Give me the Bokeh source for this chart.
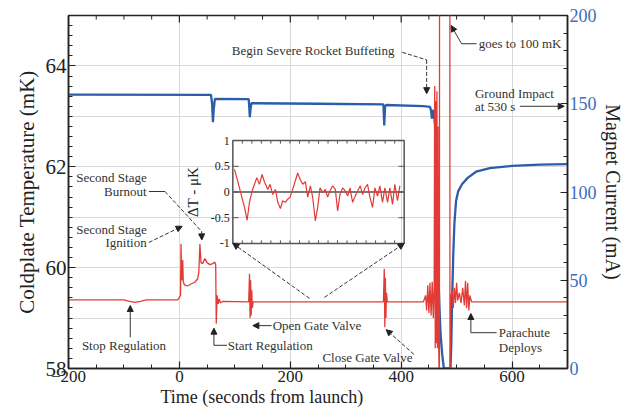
from math import pi
from bokeh.plotting import figure
from bokeh.models import Range1d, LinearAxis, SingleIntervalTicker, Arrow, NormalHead, Title
from bokeh.core.properties import value
from bokeh.embed import file_html
from bokeh.resources import INLINE

# ---------------- data ----------------
temp_t = [-200, -100, -90, -80, -70, -60, -3, 0, 2, 3, 4, 5, 6, 7, 9, 15, 22, 28, 33, 35, 37, 39,
          42, 46, 50, 55, 60, 64, 65.5, 66.5, 68, 70, 72, 74, 78, 125, 126.5, 127.5, 128.5, 129.5,
          130.5, 131.5, 133, 368, 369.5, 370.5, 371.5, 372.5, 373.5, 375, 440, 444, 446, 448, 450,
          452, 454, 456, 458, 459.5, 460.5, 461.5, 462.5, 463.5, 464.5, 465.5, 466.5, 467.5, 469,
          470, 487, 488, 489.5, 492, 494, 496, 498, 500, 502, 505, 508, 511, 514, 516, 518, 520,
          522, 524, 527, 700]
temp_mK = [59.36, 59.36, 59.33, 59.31, 59.33, 59.36, 59.36, 59.41, 59.45, 60.47, 59.75, 59.8,
           60.15, 59.72, 59.66, 59.64, 59.68, 59.71, 59.78, 59.9, 60.47, 60.1, 60.08, 60.18, 60.1,
           60.06, 60.08, 60.11, 60.05, 58.89, 59.45, 59.28, 59.38, 59.3, 59.33, 59.32, 59.88, 59.0,
           59.75, 59.05, 59.55, 59.2, 59.32, 59.32, 59.98, 58.82, 59.8, 59.0, 59.5, 59.32, 59.32,
           59.45, 59.15, 59.65, 59.1, 59.7, 59.05, 59.72, 59.0, 59.6, 63.6, 58.4, 63.3, 58.5, 63.5,
           58.4, 62.8, 58.6, 57.5, 100.0, 100.0, 57.5, 59.4, 59.55, 59.2, 59.6, 59.3, 59.7, 59.35,
           59.5, 59.3, 59.6, 59.25, 59.74, 59.2, 59.7, 59.15, 59.45, 59.32, 59.32]

current_t = [-200, 57, 59, 60.5, 62, 64, 125, 126, 127, 128.5, 130, 250, 368, 369.5, 371, 373,
             440, 452, 454, 455.5, 457, 459, 461, 463, 465, 467, 469, 471, 474, 477, 489, 490.5,
             492, 494, 496, 499, 503, 510, 520, 535, 560, 600, 650, 700]
current_mA = [155.2, 155.0, 150.0, 139.5, 147.0, 152.8, 152.6, 148.0, 142.4, 147.5, 150.3, 150.0,
              149.6, 137.7, 148.5, 149.3, 148.6, 148.2, 146.0, 141.5, 146.5, 145.0, 138.0, 110.0,
              80.0, 55.0, 35.0, 20.0, 8.0, 0.0, 0.0, 15.0, 40.0, 65.0, 82.0, 95.0, 100.5, 104.5,
              108.0, 111.5, 113.5, 114.8, 115.5, 115.8]

inset_t = [235.26, 235.79, 236.31, 236.84, 237.25, 237.62, 238.04, 238.41, 238.78, 239.19, 239.61,
           239.98, 240.51, 240.87, 241.29, 241.71, 242.08, 242.50, 242.86, 243.28, 243.65, 244.02,
           244.44, 244.80, 245.22, 245.59, 246.01, 246.43, 246.80, 247.22, 247.58, 248.00, 248.37,
           248.74, 249.16, 249.58, 249.94, 250.31, 250.73, 251.15, 251.52, 251.88, 252.30, 252.72,
           253.09, 253.46, 253.88, 254.29, 254.66, 255.08, 255.45, 255.82, 256.23, 256.60, 257.02,
           257.39, 257.81, 258.17, 258.59, 258.96, 259.38, 259.75, 260.17, 260.53, 260.95, 261.32]
inset_dT = [0.44, 0.2, -0.05, -0.3, -0.55, -0.2, 0.02, 0.15, 0.28, 0.15, 0.34, 0.2, 0.05, 0.15,
            -0.05, 0.05, -0.2, -0.32, -0.17, -0.2, -0.14, -0.1, 0.05, 0.2, 0.37, 0.25, 0.15, 0.2,
            -0.1, 0.12, -0.1, -0.56, -0.3, 0.08, -0.01, 0.05, -0.1, 0.02, 0.12, 0.05, -0.37, -0.05,
            0.08, 0.02, -0.08, 0.08, -0.2, -0.08, 0.02, 0.12, -0.05, 0.08, 0.15, -0.1, -0.3, 0.08,
            -0.08, 0.12, -0.2, 0.08, -0.2, 0.08, -0.24, 0.15, -0.17, 0.12]

inset_ticks = [-1, -0.5, 0, 0.5, 1]
inset_tick_labels = ["-1", "-0.5", "0", "0.5", "1"]

# ---------------- styling ----------------
SERIF = "Liberation Serif"
RED = "#e23b36"
BLUE = "#2a5eab"
INK = "#222222"
NOTE = "#333333"
X0, X1, Y0, Y1 = -200, 700, 58, 65

p = figure(width=626, height=414, x_range=Range1d(X0, X1), y_range=Range1d(Y0, Y1),
           output_backend="svg", toolbar_location=None,
           min_border_left=68, min_border_right=57, min_border_top=15, min_border_bottom=46)
p.extra_y_ranges = {"current": Range1d(0, 200)}
p.outline_line_color = INK
p.outline_line_width = 1.5


def style_axis(ax, fs):
    ax.major_tick_in = 7
    ax.major_tick_out = 0
    ax.minor_tick_in = 4
    ax.minor_tick_out = 0
    ax.axis_line_color = INK
    ax.axis_line_width = 1.5
    ax.major_tick_line_color = INK
    ax.major_tick_line_width = 1.2
    ax.minor_tick_line_color = INK
    ax.major_label_text_font = SERIF
    ax.major_label_text_font_size = fs
    ax.major_label_text_color = INK
    ax.major_label_standoff = 2
    ax.axis_label_text_font = SERIF
    ax.axis_label_text_font_style = "normal"
    ax.axis_label_text_color = INK
    ax.axis_label_standoff = 2


xaxis = p.xaxis[0]
xaxis.ticker = SingleIntervalTicker(interval=200, num_minor_ticks=4)
style_axis(xaxis, "17px")

yaxis = p.yaxis[0]
yaxis.ticker = SingleIntervalTicker(interval=2, num_minor_ticks=10)
style_axis(yaxis, "21px")
yaxis.axis_label = "Coldplate Temperature (mK)"
yaxis.axis_label_text_font_size = "21px"
yaxis.axis_label_standoff = 4

right = LinearAxis(y_range_name="current", axis_label="Magnet Current (mA)",
                   ticker=SingleIntervalTicker(interval=50, num_minor_ticks=5))
style_axis(right, "18px")
right.major_label_text_color = "#3d6cc0"
right.axis_label_text_font_size = "20px"
p.add_layout(right, "right")

p.xgrid.ticker = SingleIntervalTicker(interval=200)
p.ygrid.ticker = SingleIntervalTicker(interval=1)
p.grid.grid_line_color = "#d8d8d8"
p.grid.grid_line_width = 1

p.add_layout(Title(text="Time (seconds from launch)", align="left", offset=92,
                   text_font=SERIF, text_font_size="18px", text_font_style="normal",
                   text_color=INK, standoff=0), "below")

# mirrored tick marks along the top edge of the frame
top_major = list(range(X0, X1 + 1, 200))
top_minor = [t for t in range(X0 + 50, X1, 50) if t not in top_major]
p.segment(x0=top_major, y0=[Y1] * len(top_major), x1=top_major,
          y1=[Y1 - 0.14] * len(top_major), line_color=INK, line_width=1.2)
p.segment(x0=top_minor, y0=[Y1] * len(top_minor), x1=top_minor,
          y1=[Y1 - 0.08] * len(top_minor), line_color=INK, line_width=1)

# ---------------- series ----------------
p.line(current_t, current_mA, y_range_name="current", line_color=BLUE, line_width=2.3)
p.line(temp_t, temp_mK, line_color=RED, line_width=1.3)

# ---------------- inset ----------------
INSET_X = (96.4, 405.4)
INSET_Y = (60.48, 62.52)
IX0, IX1 = 235, 262
ins = p.subplot(x_source=Range1d(IX0, IX1), y_source=Range1d(-1, 1),
                x_target=Range1d(*INSET_X), y_target=Range1d(*INSET_Y))
ins.quad(left=[IX0], right=[IX1], bottom=[-1], top=[1], fill_color="white", fill_alpha=0.0,
         line_color="#555555", line_width=1.5)
ins.line([IX0, IX1], [0, 0], line_color="#7a7a7a", line_width=2)
ins.line(inset_t, inset_dT, line_color=RED, line_width=1.2)
ins.segment(x0=[IX0] * 5, y0=inset_ticks, x1=[IX0 + 0.9] * 5, y1=inset_ticks,
            line_color="#555555", line_width=1)
ins.segment(x0=[IX1] * 5, y0=inset_ticks, x1=[IX1 - 0.9] * 5, y1=inset_ticks,
            line_color="#555555", line_width=1)
mt = [IX0 + 1.5 * k for k in range(1, 18)]
ins.segment(x0=mt, y0=[1] * len(mt), x1=mt, y1=[0.94] * len(mt), line_color="#555555")
ins.segment(x0=mt, y0=[-1] * len(mt), x1=mt, y1=[-0.94] * len(mt), line_color="#555555")
ins.text(x=[IX0] * 5, y=inset_ticks, text=inset_tick_labels, x_offset=-3,
         text_align="right", text_baseline="middle", text_font=value(SERIF),
         text_font_size="12px", text_color=INK)
ins.text(x=[IX0], y=[0], text=["ΔT - μK"], x_offset=-40, angle=pi / 2,
         text_align="center", text_baseline="middle", text_font=value(SERIF),
         text_font_size="15px", text_color=INK)

# connectors from inset to the zoomed stretch of the trace
for cx, tx, ty in [(INSET_X[0], 234.7, 59.39), (INSET_X[1], 261.6, 59.41)]:
    p.add_layout(Arrow(end=NormalHead(size=6, fill_color=INK, line_color=INK),
                       x_start=tx, y_start=ty, x_end=cx, y_end=INSET_Y[0],
                       line_color=NOTE, line_width=1, line_dash="4 2"))

# ---------------- annotations ----------------
notes_left = [(94.6, 64.31, "Begin Severe Rocket Buffeting"),
              (540, 64.44, "goes to 100 mK"),
              (533, 63.45, "Ground Impact"),
              (533, 63.19, "at 530 s"),
              (87.4, 58.46, "Start Regulation"),
              (168.2, 58.85, "Open Gate Valve"),
              (258, 58.22, "Close Gate Valve"),
              (576, 58.71, "Parachute"),
              (576, 58.42, "Deploys")]
notes_right = [(-59, 61.79, "Second Stage"),
               (-59, 61.51, "Burnout"),
               (-59, 60.76, "Second Stage"),
               (-59, 60.50, "Ignition")]
notes_center = [(-100, 58.46, "Stop Regulation")]

for rows, align in [(notes_left, "left"), (notes_right, "right"), (notes_center, "center")]:
    p.text(x=[r[0] for r in rows], y=[r[1] for r in rows], text=[r[2] for r in rows],
           text_align=align, text_baseline="middle", text_font=value(SERIF),
           text_font_size="13px", text_color=NOTE)

# leader lines without heads: (xs, ys, dash)
leaders = [([402, 446], [64.27, 64.12], "4 2"),
           ([536, 509], [64.44, 64.44], "solid"),
           ([-55, -26], [61.51, 61.51], "solid"),
           ([-26, 40], [61.51, 60.72], "4 2"),
           ([86, 62.3], [58.46, 58.46], "solid"),
           ([572, 525.7], [58.71, 58.71], "solid")]
for xs, ys, dash in leaders:
    p.line(xs, ys, line_color=NOTE, line_width=1, line_dash=dash)

# arrows: (x0, y0, x1, y1, dash)
arrows = [(446, 64.12, 446, 63.45, "4 2"),
          (509, 64.44, 490, 64.8, "solid"),
          (614, 63.2, 694, 63.2, "solid"),
          (40, 60.72, 40.5, 60.55, "solid"),
          (-55, 60.50, 5, 60.82, "4 2"),
          (-88.6, 58.62, -88.6, 59.25, "solid"),
          (62.3, 58.46, 62.3, 58.8, "solid"),
          (166.4, 58.85, 132.5, 58.85, "solid"),
          (423, 58.28, 373, 58.77, "4 2"),
          (525.7, 58.71, 525.7, 59.09, "solid")]
for x0, y0, x1, y1, dash in arrows:
    p.add_layout(Arrow(end=NormalHead(size=6, fill_color=INK, line_color=INK),
                       x_start=x0, y_start=y0, x_end=x1, y_end=y1,
                       line_color=NOTE, line_width=1, line_dash=dash))

open("out.html", "w").write(file_html(p, INLINE))
